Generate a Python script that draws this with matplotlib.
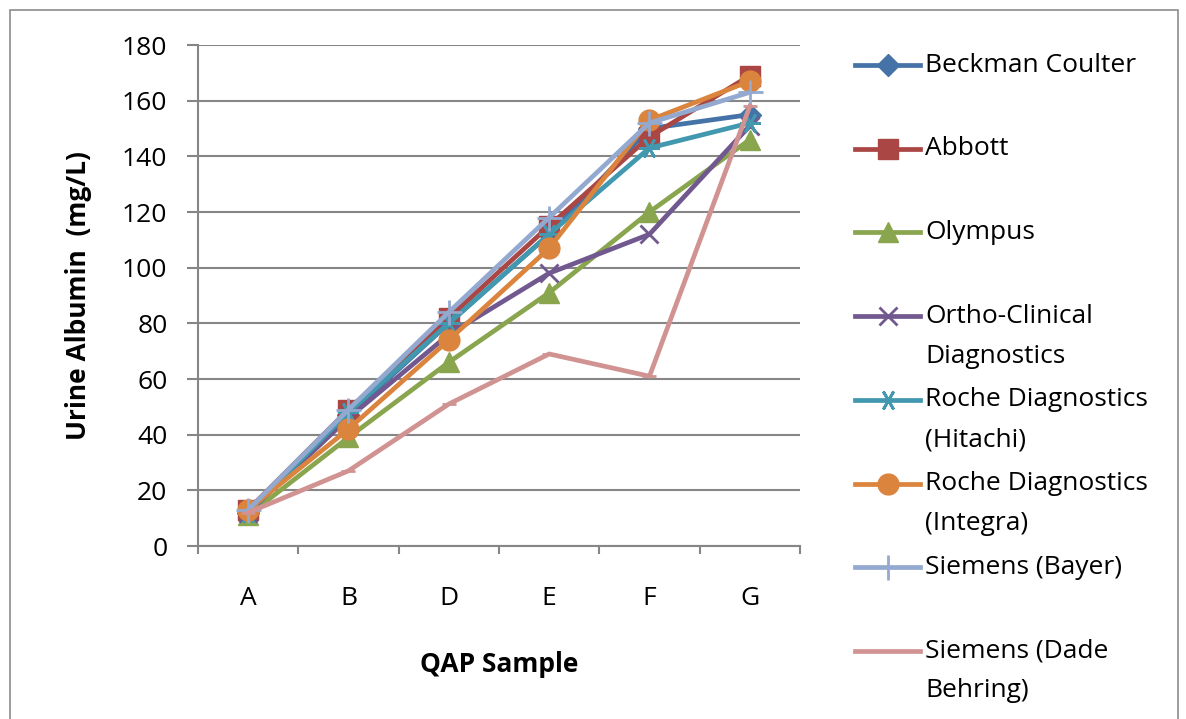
import matplotlib.pyplot as plt
from matplotlib.lines import Line2D
from matplotlib.patches import Rectangle

plt.rcParams['font.family'] = ['Open Sans', 'DejaVu Sans']

samples = ['A', 'B', 'D', 'E', 'F', 'G']

beckman = [12, 47, 80, 112, 150, 155]
abbott = [13, 49, 82, 115, 147, 169]
olympus = [11, 39, 66, 91, 120, 146]
ortho = [12, 46, 76, 98, 112, 151]
roche_hitachi = [12, 48, 80, 112, 143, 152]
roche_integra = [13, 42, 74, 107, 153, 167]
siemens_bayer = [13, 49, 84, 118, 152, 163]
siemens_dade = [12, 27, 51, 69, 61, 158]

labels = ['Beckman Coulter', 'Abbott', 'Olympus', 'Ortho-Clinical\nDiagnostics',
          'Roche Diagnostics\n(Hitachi)', 'Roche Diagnostics\n(Integra)',
          'Siemens (Bayer)', 'Siemens (Dade\nBehring)']
series = [beckman, abbott, olympus, ortho, roche_hitachi, roche_integra,
          siemens_bayer, siemens_dade]
colors = ['#4572A7', '#AA4643', '#89A54E', '#71588F', '#4198AF', '#DB843D',
          '#93A9CF', '#D19392']
markers = ['D', 's', '^', 'x', (6, 2, 90), 'o', '+', '_']
msizes = [11, 14, 15, 13, 15, 15, 18, 10]

W, H = 1186, 719
fig = plt.figure(figsize=(W / 100, H / 100), dpi=100)
ax = fig.add_axes([0.1669, 0.2406, 0.5076, 0.6968])

# outer chart border
fig.add_artist(Rectangle((10 / W, -0.01), 1168 / W, 1 - 10 / H + 0.01,
                         transform=fig.transFigure, fill=False,
                         edgecolor='#8C8C8C', lw=1.2))


def edge_width(m):
    return 1.0 if m in ('D', 's', '^', 'o') else 2.0


x = list(range(len(samples)))
for vals, lab, c, m, ms in zip(series, labels, colors, markers, msizes):
    ax.plot(x, vals, color=c, lw=3.4, marker=m, markersize=ms,
            markeredgewidth=edge_width(m), markeredgecolor=c, markerfacecolor=c,
            label=lab, solid_joinstyle='round')

ax.set_xlim(-0.5, len(samples) - 0.5)
ax.set_ylim(0, 180)
ax.set_yticks(range(0, 181, 20))
ax.yaxis.grid(True, color='#868686', lw=1.5)
ax.set_axisbelow(True)
for s in ['top', 'right']:
    ax.spines[s].set_visible(False)
for s in ['left', 'bottom']:
    ax.spines[s].set_color('#868686')
    ax.spines[s].set_linewidth(1.5)

ax.set_xticks(x)
ax.set_xticklabels(samples)
ax.set_xticks([i - 0.5 for i in range(len(samples) + 1)], minor=True)
ax.tick_params(axis='x', which='major', length=0, pad=29, labelsize=19)
ax.tick_params(axis='x', which='minor', length=6, width=1.5, color='#868686')
ax.tick_params(axis='y', length=8, width=1.5, color='#868686', pad=14, labelsize=19)

ax.set_ylabel('Urine Albumin  (mg/L)', fontsize=19, fontweight='bold')
ax.yaxis.set_label_coords(-0.176, 0.5)
ax.set_xlabel('QAP Sample', fontsize=19, fontweight='bold')
ax.xaxis.set_label_coords(0.5, -0.21)

# legend, Excel style: handle aligned with the first text line
for i, (lab, c, m, ms) in enumerate(zip(labels, colors, markers, msizes)):
    yp = 65 + i * 83.7
    yf = 1 - yp / H
    fig.add_artist(Line2D([855 / W, 888 / W, 920 / W], [yf, yf, yf],
                          transform=fig.transFigure, color=c, lw=3.4,
                          marker=m, markersize=ms, markevery=[1],
                          markeredgewidth=edge_width(m), markeredgecolor=c,
                          markerfacecolor=c))
    for k, line in enumerate(lab.split('\n')):
        fig.text(925 / W, 1 - (yp + 40 * k) / H, line, fontsize=19,
                 va='center', ha='left')

fig.savefig('out.png', dpi=100)
